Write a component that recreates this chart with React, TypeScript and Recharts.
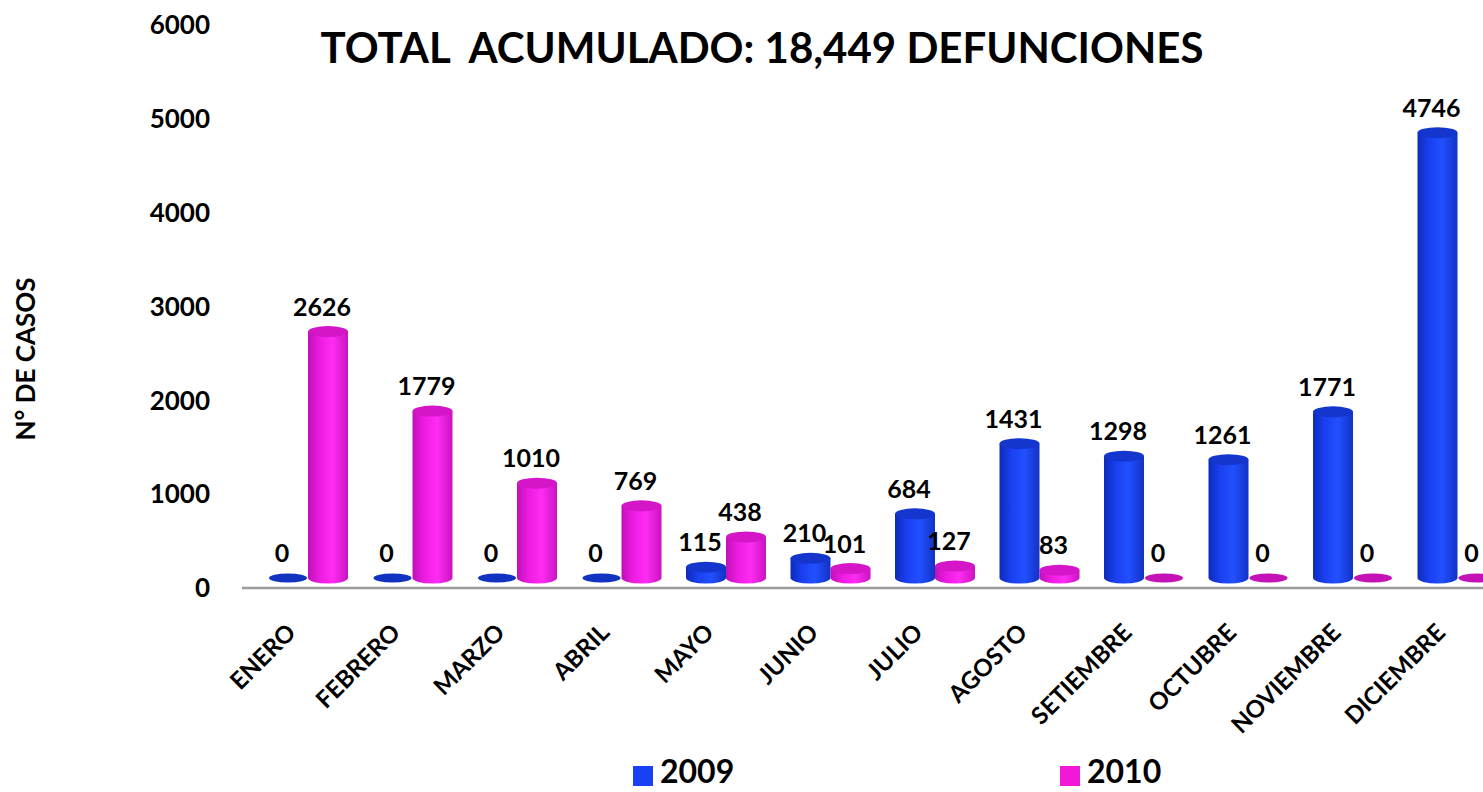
import React from "react";
import { BarChart, Bar, XAxis, YAxis, LabelList, Legend } from "recharts";

const MONTHS = [
  "ENERO",
  "FEBRERO",
  "MARZO",
  "ABRIL",
  "MAYO",
  "JUNIO",
  "JULIO",
  "AGOSTO",
  "SETIEMBRE",
  "OCTUBRE",
  "NOVIEMBRE",
  "DICIEMBRE",
];
const DEATHS_2009 = [0, 0, 0, 0, 115, 210, 684, 1431, 1298, 1261, 1771, 4746];
const DEATHS_2010 = [2626, 1779, 1010, 769, 438, 101, 127, 83, 0, 0, 0, 0];
const Y_TICKS = [0, 1000, 2000, 3000, 4000, 5000, 6000];

const data = MONTHS.map((month, i) => ({
  month,
  y2009: DEATHS_2009[i],
  y2010: DEATHS_2010[i],
}));

// fake 3D depth: cylinders sit a bit behind the front axis line
const DX = 14;
const DY = 10;

const SERIES = {
  y2009: { grad: "cyl2009", top: "#1436cc", flat: "#1232c2", legend: "#1a40f5" },
  y2010: { grad: "cyl2010", top: "#d416c8", flat: "#c412b6", legend: "#f318d8" },
};

function cylinder(key: "y2009" | "y2010") {
  return (props: any) => {
    const { x, y, width, height } = props;
    const s = SERIES[key];
    const left = x + DX;
    const right = x + width + DX;
    const cx = (left + right) / 2;
    const rx = width / 2;
    const bottom = y + height - DY;
    const top = y - DY;
    if (!height || height < 1) {
      return <ellipse cx={cx} cy={bottom} rx={rx - 1} ry={4.5} fill={s.flat} />;
    }
    const ry = 5.5;
    return (
      <g>
        <path
          d={`M${left},${top} L${left},${bottom} A${rx},${ry} 0 0 0 ${right},${bottom} L${right},${top} Z`}
          fill={`url(#${s.grad})`}
        />
        <ellipse cx={cx} cy={top} rx={rx} ry={ry} fill={s.top} />
      </g>
    );
  };
}

const valueLabel = (props: any) => {
  const { x, y, width, value } = props;
  return (
    <text
      x={x + width / 2 + DX - 6}
      y={y - DY - 16}
      textAnchor="middle"
      fontSize={25}
      fontWeight="bold"
      fill="#000"
    >
      {value}
    </text>
  );
};

const MonthTick = (props: any) => {
  const { x, y, payload } = props;
  const tx = x + 3;
  const ty = y + 46;
  return (
    <text
      x={tx}
      y={ty}
      transform={`rotate(-45 ${tx} ${ty})`}
      textAnchor="end"
      fontSize={24}
      fontWeight="bold"
      fill="#000"
    >
      {payload.value}
    </text>
  );
};

const LEGEND_ITEMS = [
  { label: "2009", left: 633, color: SERIES.y2009.legend },
  { label: "2010", left: 1060, color: SERIES.y2010.legend },
];

const YearLegend = () => (
  <div style={{ position: "relative", height: 40 }}>
    {LEGEND_ITEMS.map((item) => (
      <React.Fragment key={item.label}>
        <span
          style={{
            position: "absolute",
            left: item.left,
            top: 14,
            width: 20,
            height: 20,
            background: item.color,
          }}
        />
        <span
          style={{
            position: "absolute",
            left: item.left + 27,
            top: 3,
            fontSize: 32,
            fontWeight: "bold",
            lineHeight: "32px",
            whiteSpace: "nowrap",
          }}
        >
          {item.label}
        </span>
      </React.Fragment>
    ))}
  </div>
);

export default function App() {
  return (
    <div
      style={{
        position: "absolute",
        left: 0,
        top: 0,
        width: 1483,
        height: 792,
        overflow: "hidden",
        background: "#fff",
        fontFamily: "Lato, 'Open Sans', sans-serif",
      }}
    >
      <div
        style={{
          position: "absolute",
          left: 762,
          top: 22,
          transform: "translateX(-50%)",
          whiteSpace: "pre",
          fontSize: 42,
          fontWeight: "bold",
          lineHeight: "normal",
          zIndex: 2,
        }}
      >
        {"TOTAL  ACUMULADO: 18,449 DEFUNCIONES"}
      </div>
      <div
        style={{
          position: "absolute",
          left: 25,
          top: 359,
          transform: "translate(-50%, -50%) rotate(-90deg)",
          whiteSpace: "nowrap",
          fontSize: 26,
          fontWeight: "bold",
          zIndex: 2,
        }}
      >
        N° DE CASOS
      </div>
      <BarChart
        width={1500}
        height={792}
        data={data}
        margin={{ top: 25, right: 4, left: 0, bottom: 0 }}
        barGap={0}
        barSize={40}
      >
        <defs>
          <linearGradient id="cyl2009" x1="0" y1="0" x2="1" y2="0">
            <stop offset="0%" stopColor="#0d2cb8" />
            <stop offset="30%" stopColor="#1a40f2" />
            <stop offset="62%" stopColor="#2250ff" />
            <stop offset="100%" stopColor="#1232c4" />
          </linearGradient>
          <linearGradient id="cyl2010" x1="0" y1="0" x2="1" y2="0">
            <stop offset="0%" stopColor="#c010b8" />
            <stop offset="30%" stopColor="#ee1ce2" />
            <stop offset="62%" stopColor="#ff2cf2" />
            <stop offset="100%" stopColor="#c814c0" />
          </linearGradient>
        </defs>
        <XAxis
          dataKey="month"
          height={164}
          interval={0}
          tickSize={0}
          tickMargin={0}
          tick={<MonthTick />}
          axisLine={{ stroke: "#9c9c9c", strokeWidth: 2.5 }}
          tickLine={false}
        />
        <YAxis
          width={242}
          domain={[0, 6000]}
          ticks={Y_TICKS}
          interval={0}
          axisLine={false}
          tickLine={false}
          tickSize={0}
          tickMargin={32}
          tick={{ fontSize: 26, fontWeight: "bold", fill: "#000" }}
        />
        <Legend verticalAlign="bottom" content={<YearLegend />} />
        <Bar dataKey="y2009" name="2009" shape={cylinder("y2009")} isAnimationActive={false}>
          <LabelList dataKey="y2009" content={valueLabel} />
        </Bar>
        <Bar dataKey="y2010" name="2010" shape={cylinder("y2010")} isAnimationActive={false}>
          <LabelList dataKey="y2010" content={valueLabel} />
        </Bar>
      </BarChart>
    </div>
  );
}
